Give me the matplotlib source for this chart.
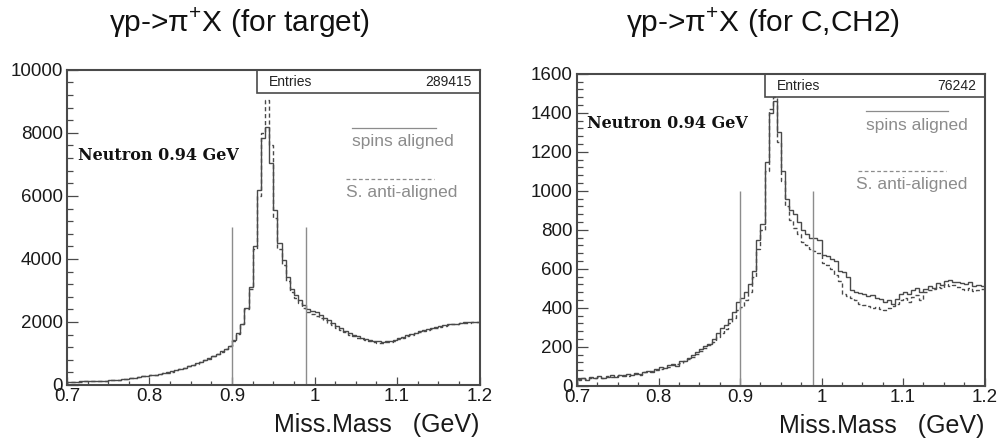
import numpy as np
import matplotlib
matplotlib.use("Agg")
import matplotlib.pyplot as plt
from matplotlib.ticker import MultipleLocator

plt.rcParams['font.family'] = ['Liberation Sans', 'DejaVu Sans']
plt.rcParams['mathtext.fontset'] = 'custom'
plt.rcParams['mathtext.rm'] = 'Liberation Sans'

# missing-mass bins, 0.7 - 1.2 GeV, 100 bins of 5 MeV
mm_lo, mm_hi, n_bins = 0.7, 1.2, 100

# target: spins aligned (solid)
target_aligned = [
    105, 110, 100, 115, 120, 112, 125, 130, 122, 135,
    150, 160, 170, 185, 200, 215, 235, 255, 275, 300,
    310, 320, 345, 370, 400, 430, 470, 510, 550, 600,
    640, 690, 740, 790, 850, 920, 990, 1070, 1150, 1250,
    1420, 1650, 1950, 2450, 3100, 4400, 6200, 7850, 8200, 7050,
    5550, 4500, 3970, 3430, 3050, 2850, 2700, 2550, 2420, 2350,
    2300, 2220, 2120, 2050, 1970, 1880, 1800, 1720, 1650, 1590,
    1540, 1500, 1460, 1430, 1400, 1390, 1370, 1380, 1400, 1430,
    1480, 1530, 1580, 1630, 1660, 1700, 1730, 1770, 1800, 1840,
    1870, 1900, 1930, 1950, 1920, 1970, 2000, 1990, 2010, 2000,
]
# target: spins anti-aligned (dashed)
target_anti = [
    95, 105, 110, 100, 118, 125, 115, 128, 135, 130,
    145, 155, 168, 180, 195, 212, 230, 250, 270, 295,
    305, 325, 340, 365, 395, 425, 465, 500, 545, 590,
    635, 680, 735, 780, 840, 910, 980, 1060, 1140, 1240,
    1400, 1620, 1930, 2400, 3050, 4300, 6000, 8000, 9050, 7600,
    5300, 4300, 3800, 3300, 2950, 2750, 2600, 2450, 2330, 2250,
    2200, 2130, 2060, 1980, 1900, 1820, 1740, 1670, 1600, 1540,
    1490, 1450, 1420, 1390, 1360, 1340, 1330, 1350, 1370, 1410,
    1450, 1500, 1550, 1600, 1640, 1670, 1710, 1750, 1790, 1820,
    1850, 1880, 1910, 1940, 1950, 1960, 1980, 1970, 2000, 1990,
]

# C, CH2: spins aligned (solid)
carbon_aligned = [
    35, 42, 30, 45, 38, 50, 40, 48, 55, 45,
    58, 52, 62, 55, 68, 60, 72, 78, 70, 85,
    95, 90, 105, 110, 100, 125, 130, 145, 160, 175,
    190, 205, 215, 240, 270, 295, 310, 345, 380, 430,
    450, 480, 520, 590, 750, 830, 1150, 1400, 1460, 1300,
    1100, 960, 900, 880, 840, 800, 780, 760, 760, 750,
    670, 665, 650, 640, 590, 585, 560, 490, 480, 475,
    470, 460, 465, 450, 445, 430, 440, 420, 445, 470,
    480, 470, 490, 500, 480, 495, 510, 500, 525, 515,
    540, 545, 530, 535, 525, 520, 530, 510, 515, 510,
]
# C, CH2: spins anti-aligned (dashed)
carbon_anti = [
    30, 38, 35, 40, 42, 45, 38, 50, 48, 52,
    55, 58, 50, 60, 62, 58, 70, 72, 75, 80,
    88, 92, 98, 105, 110, 118, 125, 140, 150, 165,
    180, 195, 210, 225, 250, 270, 290, 320, 350, 390,
    405, 440, 480, 560, 700, 800, 1100, 1420, 1480, 1250,
    1050, 920, 850, 810, 780, 740, 720, 700, 690, 680,
    630, 620, 600, 570, 540, 470, 460, 450, 440, 420,
    415, 410, 400, 405, 395, 390, 400, 410, 420, 440,
    450, 430, 455, 465, 440, 480, 490, 495, 505, 500,
    520, 510, 515, 505, 495, 490, 500, 485, 490, 495,
]

panel_titles = ["γp->π$^{+}$X (for target)", "γp->π$^{+}$X (for C,CH2)"]
entries = [289415, 76242]
cut_lo, cut_hi = 0.90, 0.99

edges = np.linspace(mm_lo, mm_hi, n_bins + 1)
ink = "#4a4a4a"
faint = "#8c8c8c"

fig = plt.figure(figsize=(10.04, 4.42), dpi=100)
axes = [fig.add_axes([0.0667, 0.129, 0.411, 0.713]),
        fig.add_axes([0.5747, 0.127, 0.406, 0.706])]

setup = [
    dict(ax=axes[0], solid=target_aligned, dashed=target_anti, ymax=10000,
         ymaj=2000, ymin=400, cut_h=5000, title_x=0.238),
    dict(ax=axes[1], solid=carbon_aligned, dashed=carbon_anti, ymax=1600,
         ymaj=200, ymin=40, cut_h=1000, title_x=0.760),
]

for i, s in enumerate(setup):
    ax = s['ax']
    ax.stairs(s['solid'], edges, color=ink, lw=1.0)
    ax.stairs(s['dashed'], edges, color=ink, lw=1.0, ls=(0, (3, 2)))
    ax.vlines([cut_lo, cut_hi], 0, s['cut_h'], color=faint, lw=1.0)

    ax.set_xlim(mm_lo, mm_hi)
    ax.set_ylim(0, s['ymax'])
    ax.xaxis.set_major_locator(MultipleLocator(0.1))
    ax.xaxis.set_minor_locator(MultipleLocator(0.025))
    ax.yaxis.set_major_locator(MultipleLocator(s['ymaj']))
    ax.yaxis.set_minor_locator(MultipleLocator(s['ymin']))
    ax.xaxis.set_major_formatter(plt.FuncFormatter(lambda v, p: f"{v:g}"))
    ax.tick_params(which='both', direction='in', colors=ink, labelcolor='#1a1a1a',
                   labelsize=13.5, width=0.9)
    ax.tick_params(axis='x', which='major', length=6, pad=2)
    ax.tick_params(axis='x', which='minor', length=3)
    ax.tick_params(axis='y', which='major', length=8, pad=3)
    ax.tick_params(axis='y', which='minor', length=4)
    for sp in ax.spines.values():
        sp.set_color(ink)
        sp.set_linewidth(1.5)

    ax.set_xlabel("Miss.Mass   (GeV)", fontsize=18, loc='right', labelpad=6,
                  color='#1a1a1a')

    # stat box in the top right corner
    ax.text(0.49, 0.962, "Entries", transform=ax.transAxes, fontsize=10,
            va='center', ha='left', color='#222222')
    ax.text(0.98, 0.962, f"{entries[i]}", transform=ax.transAxes, fontsize=10,
            va='center', ha='right', color='#222222')
    ax.add_patch(plt.Rectangle((0.46, 0.925), 0.54, 0.075, transform=ax.transAxes,
                               fill=False, ec=ink, lw=1.2, clip_on=False))

    fig.text(s['title_x'], 0.948, panel_titles[i], fontsize=21.5, ha='center',
             va='center', color='#111111')

# legend lines and labels
axes[0].plot([0.69, 0.895], [0.815, 0.815], transform=axes[0].transAxes,
             color=faint, lw=0.9)
axes[0].text(0.69, 0.772, "spins aligned", transform=axes[0].transAxes,
             fontsize=12.5, color=faint, va='center', ha='left')
axes[0].plot([0.675, 0.89], [0.655, 0.655], transform=axes[0].transAxes,
             color=faint, lw=0.9, ls=(0, (3, 2)))
axes[0].text(0.675, 0.612, "S. anti-aligned", transform=axes[0].transAxes,
             fontsize=12.5, color=faint, va='center', ha='left')

axes[1].plot([0.708, 0.91], [0.88, 0.88], transform=axes[1].transAxes,
             color=faint, lw=0.9)
axes[1].text(0.708, 0.835, "spins aligned", transform=axes[1].transAxes,
             fontsize=12.5, color=faint, va='center', ha='left')
axes[1].plot([0.69, 0.905], [0.69, 0.69], transform=axes[1].transAxes,
             color=faint, lw=0.9, ls=(0, (3, 2)))
axes[1].text(0.685, 0.645, "S. anti-aligned", transform=axes[1].transAxes,
             fontsize=12.5, color=faint, va='center', ha='left')

axes[0].text(0.027, 0.727, "Neutron 0.94 GeV", transform=axes[0].transAxes,
             fontsize=11.5, fontweight='bold', family='DejaVu Serif',
             va='center', ha='left', color='#111111')
axes[1].text(0.025, 0.84, "Neutron 0.94 GeV", transform=axes[1].transAxes,
             fontsize=11.5, fontweight='bold', family='DejaVu Serif',
             va='center', ha='left', color='#111111')

fig.savefig("out.png", dpi=100)
